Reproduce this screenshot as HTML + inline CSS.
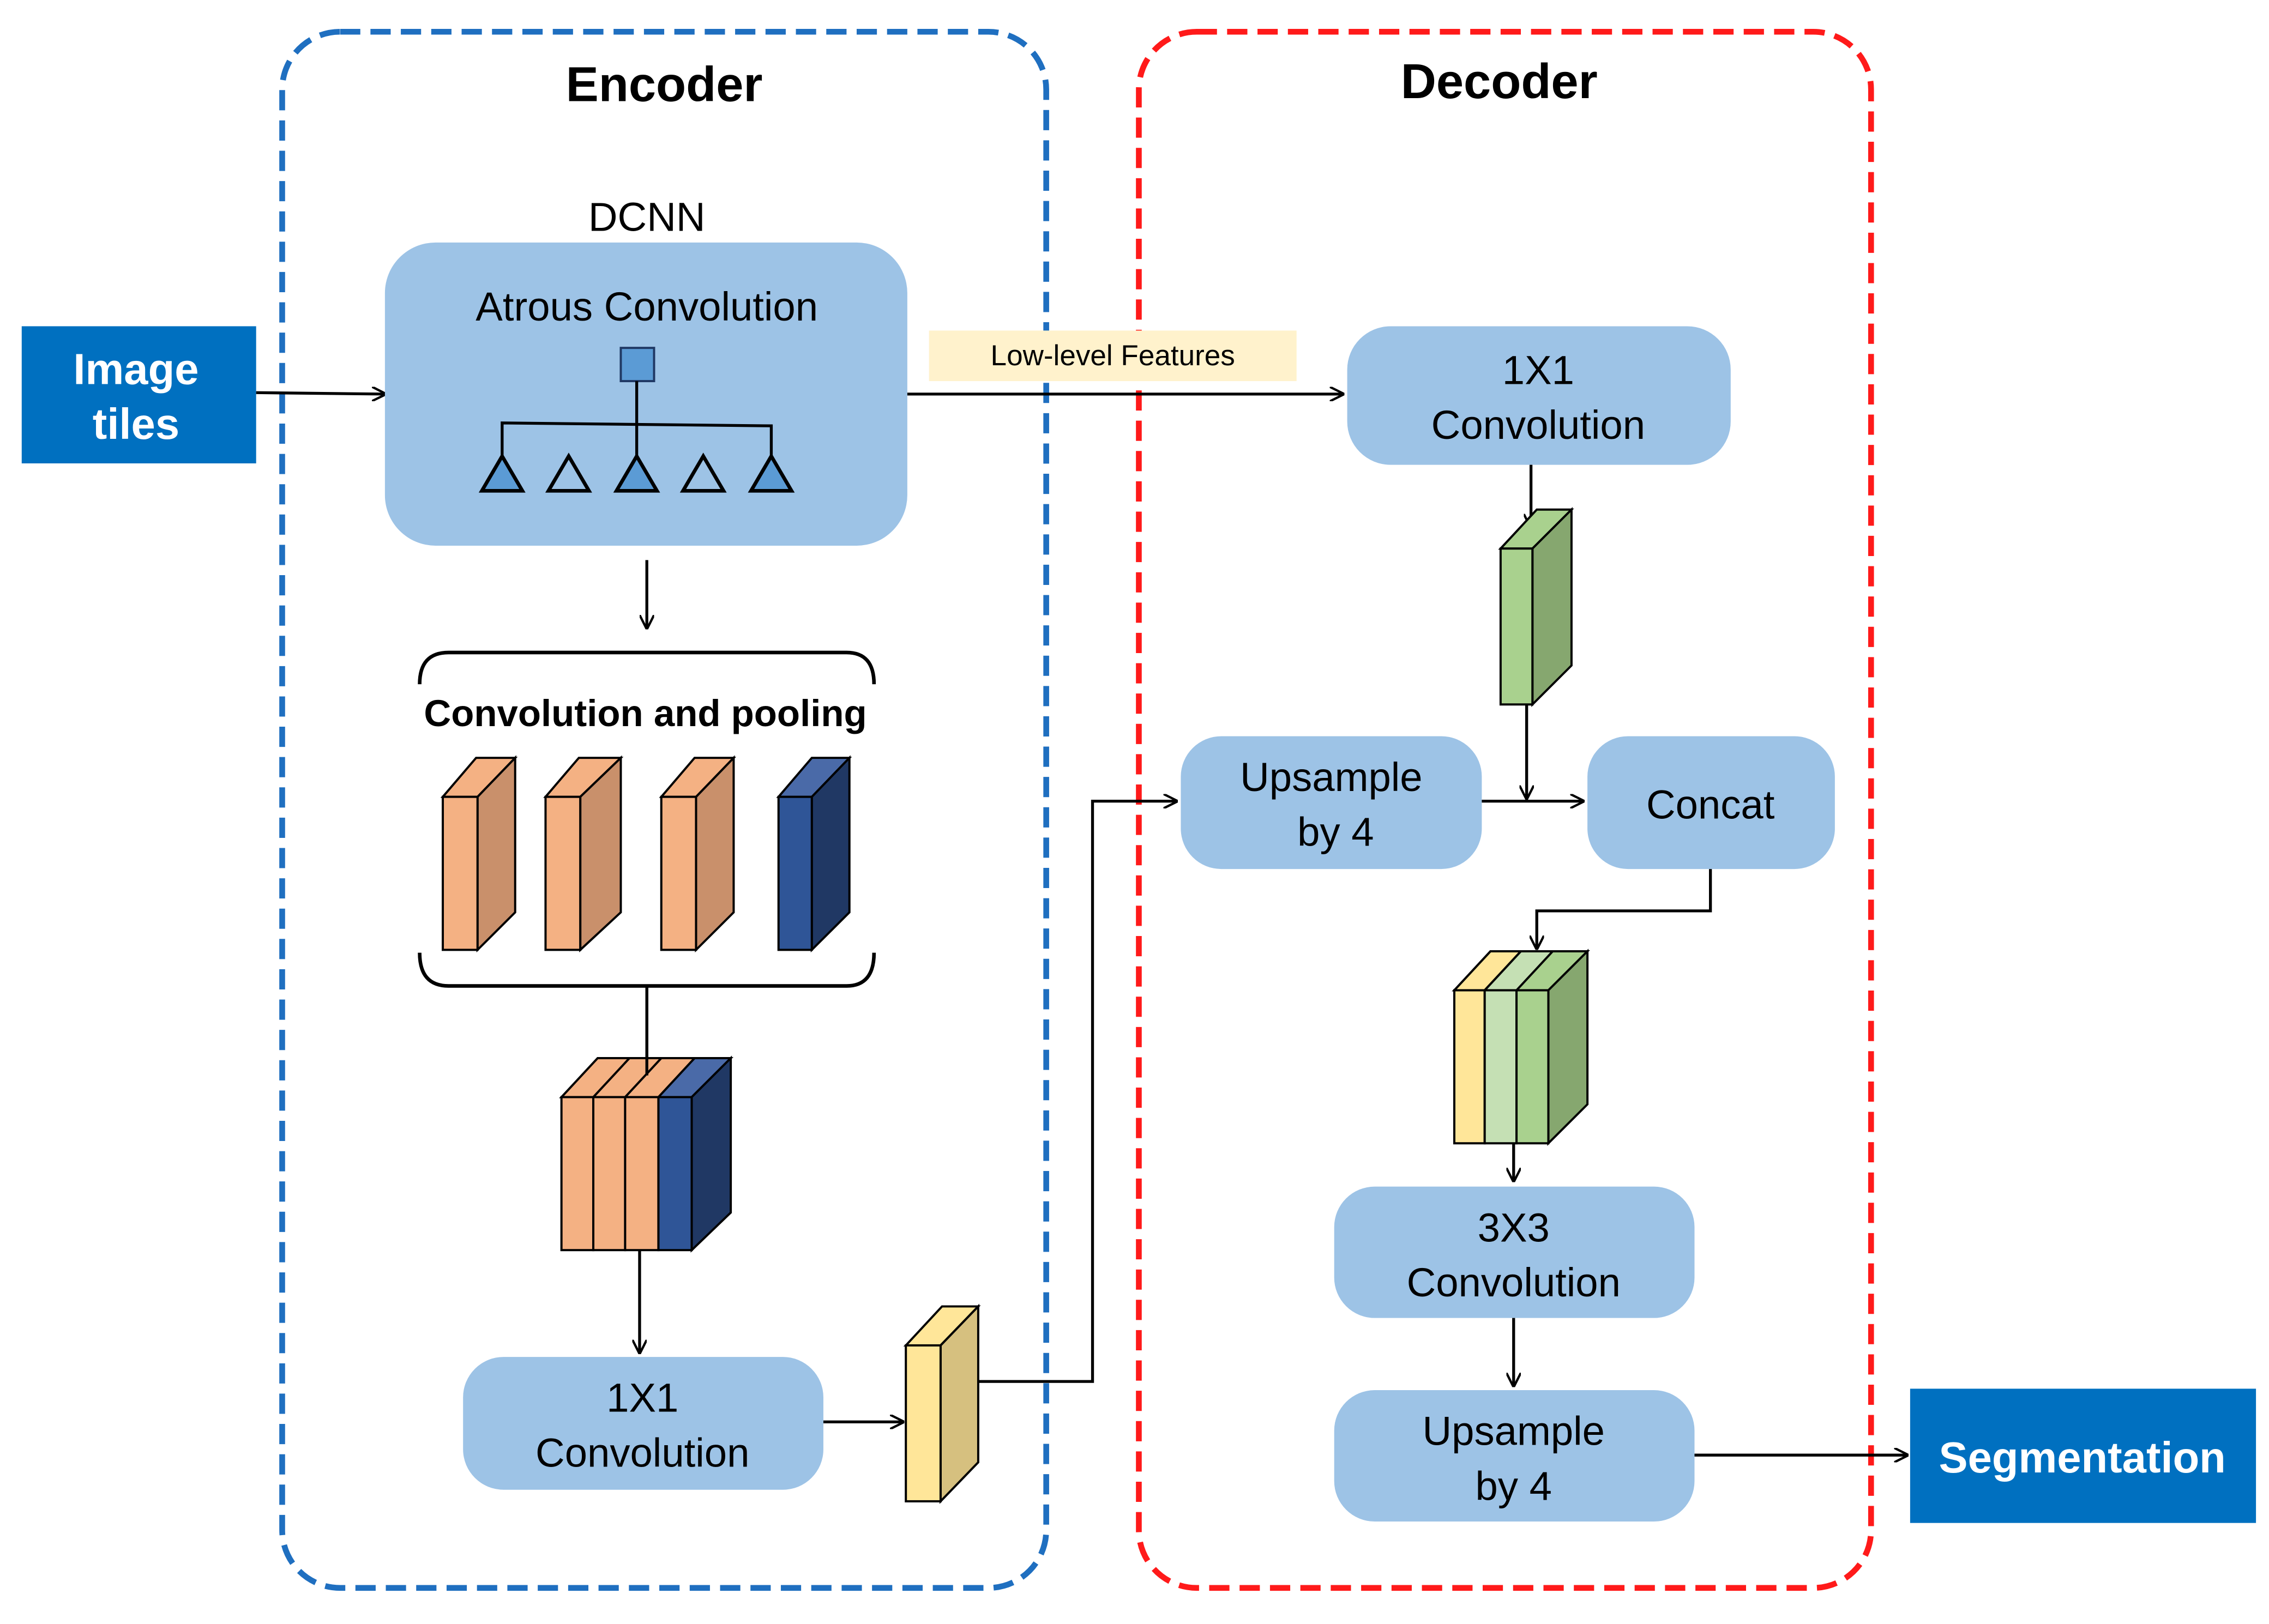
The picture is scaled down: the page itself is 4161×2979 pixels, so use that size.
<!DOCTYPE html>
<html><head><meta charset="utf-8"><style>
html,body{margin:0;padding:0;background:#fff}
svg{display:block}
text{font-family:"Liberation Sans",Arial,sans-serif}
</style></head><body>
<svg width="4161" height="2979" viewBox="0 0 1568 1125" preserveAspectRatio="none" xmlns="http://www.w3.org/2000/svg">
<defs>
<marker id="a" markerWidth="10" markerHeight="10" refX="9" refY="5" orient="auto" markerUnits="userSpaceOnUse">
<path d="M0,0 L10,5 L0,10" fill="none" stroke="#000" stroke-width="1.6"/>
</marker>
</defs>
<rect x="195" y="22" width="528" height="1078" rx="40" fill="none" stroke="#1f6fc0" stroke-width="4" stroke-dasharray="14,7"/>
<rect x="787" y="22" width="506" height="1078" rx="40" fill="none" stroke="#ff1a1a" stroke-width="4" stroke-dasharray="14,7"/>
<text x="459" y="70" font-size="34" font-weight="bold" text-anchor="middle">Encoder</text>
<text x="1036" y="68" font-size="34" font-weight="bold" text-anchor="middle">Decoder</text>

<rect x="15" y="226" width="162" height="95" fill="#0070c0"/>
<text x="94" y="266" font-size="30" font-weight="bold" fill="#fff" text-anchor="middle">Image</text>
<text x="94" y="304" font-size="30" font-weight="bold" fill="#fff" text-anchor="middle">tiles</text>
<line x1="177" y1="272" x2="266" y2="273" stroke="#000" stroke-width="2" marker-end="url(#a)"/>

<text x="447" y="160" font-size="28" text-anchor="middle">DCNN</text>
<rect x="266" y="168" width="361" height="210" rx="35" fill="#9dc3e6"/>
<text x="447" y="222" font-size="28" text-anchor="middle">Atrous Convolution</text>
<rect x="429" y="241" width="23" height="23" fill="#5b9bd5" stroke="#1f3864" stroke-width="1.5"/>
<g stroke="#000" stroke-width="2" fill="none">
<line x1="440" y1="316" x2="440" y2="264"/>
<polyline points="347,316 347,293 533,295 533,316"/>
</g>
<g stroke="#000" stroke-width="2.5">
<polygon points="347,316 333,340 361,340" fill="#5b9bd5"/>
<polygon points="393,316 379,340 407,340" fill="none"/>
<polygon points="440,316 426,340 454,340" fill="#5b9bd5"/>
<polygon points="486,316 472,340 500,340" fill="none"/>
<polygon points="533,316 519,340 547,340" fill="#5b9bd5"/>
</g>
<line x1="447" y1="388" x2="447" y2="435" stroke="#000" stroke-width="2" marker-end="url(#a)"/>

<path d="M290,474 Q290,452 310,452 L585,452 Q604,452 604,474" fill="none" stroke="#000" stroke-width="2.5"/>
<path d="M290,660 Q290,683 310,683 L585,683 Q604,683 604,660" fill="none" stroke="#000" stroke-width="2.5"/>
<text x="446" y="503" font-size="26" font-weight="bold" text-anchor="middle">Convolution and pooling</text>

<g stroke="#000" stroke-width="1.5">
<!-- cuboid template -->
<g><polygon points="306,552 329,525 356,525 330,552" fill="#f4b183"/><polygon points="330,552 356,525 356,632 330,658" fill="#c9906b"/><rect x="306" y="552" width="24" height="106" fill="#f4b183"/></g>
<g><polygon points="377,552 400,525 429,525 401,552" fill="#f4b183"/><polygon points="401,552 429,525 429,632 401,658" fill="#c9906b"/><rect x="377" y="552" width="24" height="106" fill="#f4b183"/></g>
<g><polygon points="457,552 480,525 507,525 481,552" fill="#f4b183"/><polygon points="481,552 507,525 507,632 481,658" fill="#c9906b"/><rect x="457" y="552" width="24" height="106" fill="#f4b183"/></g>
<g><polygon points="538,552 561,525 587,525 561,552" fill="#4a6aa8"/><polygon points="561,552 587,525 587,632 561,658" fill="#203864"/><rect x="538" y="552" width="23" height="106" fill="#2f5597"/></g>
</g>
<line x1="447" y1="683" x2="447" y2="745" stroke="#000" stroke-width="2" marker-end="url(#a)"/>

<g stroke="#000" stroke-width="1.5">
<polygon points="388,760 413,733 505,733 478,760" fill="#f4b183"/>
<polygon points="455,760 480,733 505,733 478,760" fill="#4a6aa8"/>
<polygon points="478,760 505,733 505,840 478,866" fill="#203864"/>
<rect x="388" y="760" width="22" height="106" fill="#f4b183"/>
<rect x="410" y="760" width="22" height="106" fill="#f4b183"/>
<rect x="432" y="760" width="23" height="106" fill="#f4b183"/>
<rect x="455" y="760" width="23" height="106" fill="#2f5597"/>
<line x1="410" y1="760" x2="435" y2="733"/><line x1="432" y1="760" x2="457" y2="733"/>
</g>
<line x1="447" y1="683" x2="447" y2="745" stroke="#000" stroke-width="2"/>
<line x1="442" y1="866" x2="442" y2="937" stroke="#000" stroke-width="2" marker-end="url(#a)"/>

<rect x="320" y="940" width="249" height="92" rx="28" fill="#9dc3e6"/>
<text x="444" y="978" font-size="28" text-anchor="middle">1X1</text>
<text x="444" y="1016" font-size="28" text-anchor="middle">Convolution</text>
<line x1="569" y1="985" x2="624" y2="985" stroke="#000" stroke-width="2" marker-end="url(#a)"/>
<g stroke="#000" stroke-width="1.5">
<polygon points="626,932 651,905 676,905 650,932" fill="#ffe699"/>
<polygon points="650,932 676,905 676,1013 650,1040" fill="#d6c07f"/>
<rect x="626" y="932" width="24" height="108" fill="#ffe699"/>
</g>
<polyline points="676,957 755,957 755,555 813,555" fill="none" stroke="#000" stroke-width="2" marker-end="url(#a)"/>

<line x1="627" y1="273" x2="928" y2="273" stroke="#000" stroke-width="2" marker-end="url(#a)"/>
<rect x="642" y="229" width="254" height="35" fill="#fff2cc"/>
<text x="769" y="253" font-size="20" text-anchor="middle">Low-level Features</text>

<rect x="931" y="226" width="265" height="96" rx="30" fill="#9dc3e6"/>
<text x="1063" y="266" font-size="28" text-anchor="middle">1X1</text>
<text x="1063" y="304" font-size="28" text-anchor="middle">Convolution</text>
<line x1="1058" y1="322" x2="1058" y2="365" stroke="#000" stroke-width="2" marker-end="url(#a)"/>
<g stroke="#000" stroke-width="1.5">
<polygon points="1037,380 1062,353 1086,353 1059,380" fill="#a9d18e"/>
<polygon points="1059,380 1086,353 1086,461 1059,488" fill="#86a76f"/>
<rect x="1037" y="380" width="22" height="108" fill="#a9d18e"/>
</g>
<line x1="1055" y1="488" x2="1055" y2="553" stroke="#000" stroke-width="2" marker-end="url(#a)"/>

<rect x="816" y="510" width="208" height="92" rx="28" fill="#9dc3e6"/>
<text x="920" y="548" font-size="28" text-anchor="middle">Upsample</text>
<text x="923" y="586" font-size="28" text-anchor="middle">by 4</text>
<rect x="1097" y="510" width="171" height="92" rx="28" fill="#9dc3e6"/>
<text x="1182" y="567" font-size="28" text-anchor="middle">Concat</text>
<line x1="1024" y1="555" x2="1094" y2="555" stroke="#000" stroke-width="2" marker-end="url(#a)"/>
<polyline points="1182,602 1182,631 1062,631 1062,657" fill="none" stroke="#000" stroke-width="2" marker-end="url(#a)"/>

<g stroke="#000" stroke-width="1.5">
<polygon points="1005,686 1030,659 1097,659 1070,686" fill="#a9d18e"/>
<polygon points="1005,686 1030,659 1051,659 1026,686" fill="#ffe699"/>
<polygon points="1026,686 1051,659 1073,659 1048,686" fill="#c5e0b4"/>
<polygon points="1070,686 1097,659 1097,765 1070,792" fill="#86a76f"/>
<rect x="1005" y="686" width="21" height="106" fill="#ffe699"/>
<rect x="1026" y="686" width="22" height="106" fill="#c5e0b4"/>
<rect x="1048" y="686" width="22" height="106" fill="#a9d18e"/>
</g>
<line x1="1046" y1="792" x2="1046" y2="818" stroke="#000" stroke-width="2" marker-end="url(#a)"/>

<rect x="922" y="822" width="249" height="91" rx="28" fill="#9dc3e6"/>
<text x="1046" y="860" font-size="28" text-anchor="middle">3X3</text>
<text x="1046" y="898" font-size="28" text-anchor="middle">Convolution</text>
<line x1="1046" y1="913" x2="1046" y2="960" stroke="#000" stroke-width="2" marker-end="url(#a)"/>
<rect x="922" y="963" width="249" height="91" rx="28" fill="#9dc3e6"/>
<text x="1046" y="1001" font-size="28" text-anchor="middle">Upsample</text>
<text x="1046" y="1039" font-size="28" text-anchor="middle">by 4</text>
<line x1="1171" y1="1008" x2="1318" y2="1008" stroke="#000" stroke-width="2" marker-end="url(#a)"/>
<rect x="1320" y="962" width="239" height="93" fill="#0070c0"/>
<text x="1439" y="1020" font-size="30" font-weight="bold" fill="#fff" text-anchor="middle">Segmentation</text>
</svg>
</body></html>
